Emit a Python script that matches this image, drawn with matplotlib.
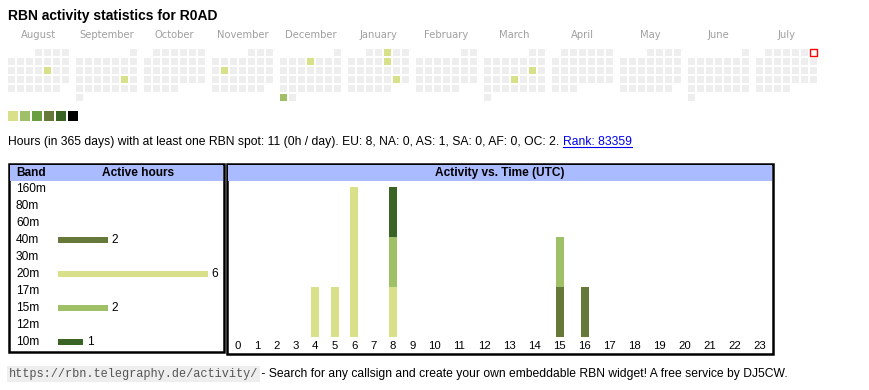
import calendar
import datetime as dt

import matplotlib.pyplot as plt
from matplotlib.patches import Rectangle
import numpy as np

W, H = 870, 390

# calendar data (Aug 2024 .. Jul 2025)
first_month = (2024, 8)
active_dates = ["2024-08-16", "2024-09-21", "2024-11-12", "2024-12-05", "2024-12-30",
                "2025-01-03", "2025-01-10", "2025-01-25", "2025-03-15", "2025-03-20"]
active_levels = [1, 1, 1, 1, 2, 1, 1, 1, 1, 1]
today = "2025-07-06"
level_colors = ["#eeeeee", "#d9e08a", "#a0c068", "#6a9e40", "#66783a", "#3a6426", "#000000"]

# band table
bands = ["160m", "80m", "60m", "40m", "30m", "20m", "17m", "15m", "12m", "10m"]
band_hours = [0, 0, 0, 2, 0, 6, 0, 2, 0, 1]
band_colors = {"40m": "#66783a", "20m": "#d9e08a", "15m": "#a0c068", "10m": "#3a6426"}

# activity per UTC hour, by band
hours = list(range(24))
act_by_band = {
    "40m": [0, 0, 0, 0, 0, 0, 0, 0, 0, 0, 0, 0, 0, 0, 0, 1, 1, 0, 0, 0, 0, 0, 0, 0],
    "20m": [0, 0, 0, 0, 1, 1, 3, 0, 1, 0, 0, 0, 0, 0, 0, 0, 0, 0, 0, 0, 0, 0, 0, 0],
    "15m": [0, 0, 0, 0, 0, 0, 0, 0, 1, 0, 0, 0, 0, 0, 0, 1, 0, 0, 0, 0, 0, 0, 0, 0],
    "10m": [0, 0, 0, 0, 0, 0, 0, 0, 1, 0, 0, 0, 0, 0, 0, 0, 0, 0, 0, 0, 0, 0, 0, 0],
}

summary = "Hours (in 365 days) with at least one RBN spot: 11 (0h / day). EU: 8, NA: 0, AS: 1, SA: 0, AF: 0, OC: 2. "
rank = "Rank: 83359"
footer_url = "https://rbn.telegraphy.de/activity/"
footer_text = " - Search for any callsign and create your own embeddable RBN widget! A free service by DJ5CW."

SANS = ["Liberation Sans", "DejaVu Sans"]
HEAD_BG = "#aabbff"
FS = 8.6
FS_LINE = 8.75

fig = plt.figure(figsize=(W / 100, H / 100), dpi=100)
base = fig.add_axes([0, 0, 1, 1])
base.set_xlim(0, W)
base.set_ylim(H, 0)
base.axis("off")


def px_axes(x0, y0, x1, y1):
    ax = fig.add_axes([x0 / W, 1 - y1 / H, (x1 - x0) / W, (y1 - y0) / H])
    ax.patch.set_alpha(0)
    for s in ax.spines.values():
        s.set_visible(False)
    return ax


base.text(8, 16, "RBN activity statistics for R0AD", fontsize=10, fontweight="bold",
          family=SANS, va="center", ha="left")

# ---- calendar heatmap ----
levels = {dt.date.fromisoformat(d): lv for d, lv in zip(active_dates, active_levels)}
today_d = dt.date.fromisoformat(today)
cell, pitch, block = 7, 9, 68
for m in range(12):
    year = first_month[0] + (first_month[1] - 1 + m) // 12
    month = (first_month[1] - 1 + m) % 12 + 1
    offset, ndays = calendar.monthrange(year, month)
    bx = 8 + m * block
    base.text(bx + 3.5 * pitch - 1, 35, calendar.month_name[month], fontsize=7.2,
              color="#a0a0a0", ha="center", va="center", family="DejaVu Sans")
    for day in range(1, ndays + 1):
        idx = offset + day - 1
        row, col = divmod(idx, 7)
        d = dt.date(year, month, day)
        fc = level_colors[levels.get(d, 0)]
        ec = "none"
        if d == today_d:
            fc, ec = "white", "red"
        base.add_patch(Rectangle((bx + col * pitch, 49 + row * pitch), cell, cell,
                                 facecolor=fc, edgecolor=ec, lw=1))

for i, c in enumerate(level_colors[1:]):
    base.add_patch(Rectangle((8 + i * 12, 111), 10, 10, facecolor=c, edgecolor="none"))

t1 = base.text(8, 142, summary, fontsize=FS_LINE, family=SANS, va="center", ha="left")
t2 = base.annotate(rank, xy=(1, 0.5), xycoords=t1, fontsize=FS_LINE, family=SANS,
                   va="center", ha="left", color="#0000ee")

# ---- band table ----
base.add_patch(Rectangle((9, 164), 215, 188, facecolor="white", edgecolor="black", lw=1.8))
base.add_patch(Rectangle((10, 165), 213, 16, facecolor=HEAD_BG, edgecolor="none"))
base.text(16, 173, "Band", fontsize=FS, fontweight="bold", family=SANS, va="center")
base.text(138, 173, "Active hours", fontsize=FS, fontweight="bold", family=SANS,
          va="center", ha="center")

row_h = 17
ax_band = px_axes(58, 189 - row_h / 2, 218, 189 + row_h * 9.5)
ax_band.set_xlim(0, 160 / 25)
ax_band.set_ylim(len(bands) - 0.5, -0.5)
ax_band.set_xticks([])
ax_band.set_yticks([])
for i, (b, v) in enumerate(zip(bands, band_hours)):
    base.text(16, 189 + i * row_h, b, fontsize=FS, family=SANS, va="center")
    if v:
        ax_band.barh(i, v, height=0.4, color=band_colors[b])
        ax_band.annotate(str(v), xy=(v, i), xytext=(2.7, 0), textcoords="offset points",
                         fontsize=FS, family=SANS, va="center", ha="left")

# ---- activity vs time ----
base.add_patch(Rectangle((227.5, 163.5), 545.5, 190.5, facecolor="white",
                         edgecolor="black", lw=1.8))
base.add_patch(Rectangle((228.5, 165), 543.5, 16, facecolor=HEAD_BG, edgecolor="none"))
base.text(500, 173, "Activity vs. Time (UTC)", fontsize=FS, fontweight="bold",
          family=SANS, va="center", ha="center")

# html table columns: width grows with label length
col_w = np.array([13.8 + 5.6 * len(str(h)) for h in hours])
left = 228.0
centers = left + np.cumsum(col_w) - col_w / 2
ax_hour = px_axes(left, 186.7, left + col_w.sum(), 336.7)
ax_hour.set_xlim(left, left + col_w.sum())
ax_hour.set_ylim(0, 3)
ax_hour.set_yticks([])
bottom = np.zeros(24)
for b in bands:
    if b not in act_by_band:
        continue
    vals = np.array(act_by_band[b])
    ax_hour.bar(centers, vals, width=8, bottom=bottom, color=band_colors[b])
    bottom += vals
ax_hour.set_xticks(centers, [str(h) for h in hours], fontsize=8.2, family=SANS)
ax_hour.tick_params(axis="x", length=0, pad=3)

# ---- footer ----
t3 = base.text(9, 374, footer_url, fontsize=8.6, family="Liberation Mono", color="#555555",
               va="center", ha="left",
               bbox=dict(boxstyle="square,pad=0.15", facecolor="#eeeeee", edgecolor="none"))
base.annotate(footer_text, xy=(1, 0.5), xycoords=t3, fontsize=FS_LINE, family=SANS,
              va="center", ha="left")

# underline the rank link
fig.canvas.draw()
bb = t2.get_window_extent().transformed(base.transData.inverted())
base.plot([bb.x0, bb.x1], [bb.y0 - 1, bb.y0 - 1], color="#0000ee", lw=0.8)

fig.savefig("out.png", dpi=100)
